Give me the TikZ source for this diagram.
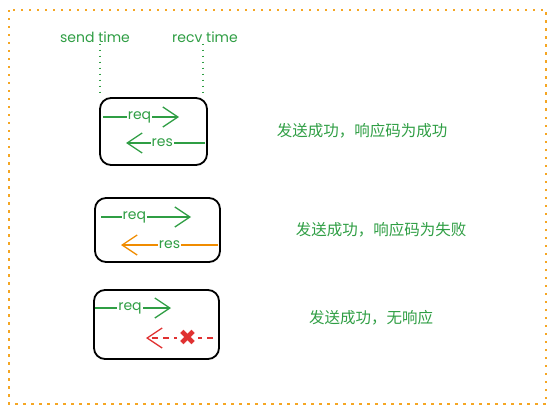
\documentclass[tikz,border=0pt]{standalone}
\usepackage{fontspec}
\setsansfont{Poppins}
\newfontfamily\cjk{Noto Sans CJK SC}
\newfontfamily\symfont{DejaVu Sans}
\usetikzlibrary{arrows.meta,positioning}
\definecolor{okgreen}{HTML}{2F9E44}
\definecolor{warnorange}{HTML}{F08C00}
\definecolor{failred}{HTML}{E03131}
\definecolor{frameorange}{HTML}{F5A623}

\begin{document}
\begin{tikzpicture}[
        x=1pt, y=-1pt,
        box/.style={draw, line width=1.8pt, rounded corners=11pt},
        msg/.style={line width=1.3pt, -{Straight Barb[length=15pt, width=20pt, line width=1.3pt]}},
        lbl/.style={fill=white, inner sep=1pt, text=okgreen, font=\sffamily\fontsize{14}{14}\selectfont},
        note/.style={text=okgreen, font=\cjk\fontsize{15.5}{16}\selectfont}
        ]
    \useasboundingbox (0,0) rectangle (553,414);

    % Frame
    \draw[frameorange, line width=2pt, dash pattern=on 2.5pt off 5.5pt] (9,10) rectangle (546,404);

    % Time marks
    \node[lbl] (send) at (95,37) {send time};
    \node[lbl] (recv) at (205,37) {recv time};
    \coordinate (st) at (100,93);
    \coordinate (rt) at (203,95);
    \draw[okgreen, line width=1.2pt, dash pattern=on 1.5pt off 4.5pt] (send.south -| st) -- (st);
    \draw[okgreen, line width=1.2pt, dash pattern=on 1.5pt off 4.5pt] (recv.south -| rt) -- (rt);

    % Boxes
    \draw[box] (100,98) rectangle (207,165);
    \draw[box] (95,198) rectangle (220,262);
    \draw[box] (94,290) rectangle (219,359);

    % Box 1
    \coordinate (q1s) at (103,117);
    \coordinate (q1e) at (179,117);
    \coordinate (r1s) at (205,143);
    \coordinate (r1e) at (126,143);
    \draw[msg, okgreen] (q1s) -- node[lbl, pos=0.48] {req} (q1e);
    \draw[msg, okgreen] (r1s) -- node[lbl, pos=0.54] {res} (r1e);

    % Box 2
    \coordinate (q2s) at (101,217);
    \coordinate (q2e) at (191,217);
    \coordinate (r2s) at (218,245);
    \coordinate (r2e) at (121,245);
    \draw[msg, okgreen] (q2s) -- node[lbl, pos=0.37] {req} (q2e);
    \draw[msg, warnorange] (r2s) -- node[lbl, pos=0.5] {res} (r2e);

    % Box 3
    \coordinate (q3s) at (95,308);
    \coordinate (q3e) at (171,308);
    \coordinate (r3s) at (213,338);
    \coordinate (r3e) at (146,338);
    \draw[msg, okgreen] (q3s) -- node[lbl, pos=0.46] {req} (q3e);
    \draw[msg, failred, dash pattern=on 6pt off 5pt] (r3s) -- node[fill=white, inner sep=1.5pt, text=failred, font=\symfont\fontsize{22}{22}\selectfont, pos=0.38] (lost) {✖} (r3e);

    % Notes
    \node[note] (n1) at (362,131) {发送成功，响应码为成功};
    \node[note] (n2) at (381,230) {发送成功，响应码为失败};
    \node[note] (n3) at (371,318) {发送成功，无响应};
\end{tikzpicture}
\end{document}
